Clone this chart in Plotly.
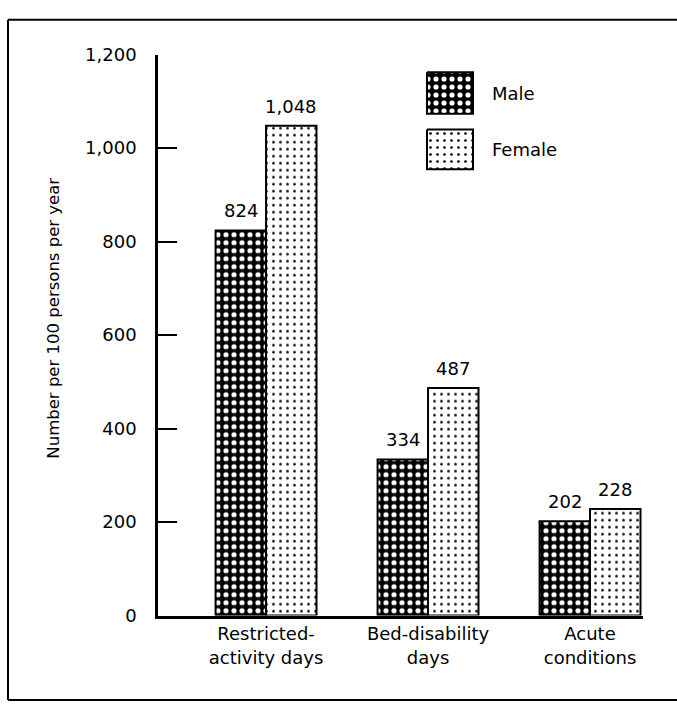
import plotly.graph_objects as go

# ---------------- data ----------------
categories = ["Restricted-<br>activity days", "Bed-disability<br>days", "Acute<br>conditions"]
series_names = ["Male", "Female"]
male_values = [824, 334, 202]
female_values = [1048, 487, 228]
y_tick_values = [0, 200, 400, 600, 800, 1000, 1200]
y_axis_title = "Number per 100 persons per year"

# ---------------- style ----------------
W, H = 677, 711
FONT = "DejaVu Sans"
INK = "black"

male_pattern = dict(shape=".", bgcolor="black", fgcolor="white", size=8, solidity=0.33, fillmode="replace")
female_pattern = dict(shape=".", bgcolor="white", fgcolor="black", size=7, solidity=0.12, fillmode="replace")
patterns = [male_pattern, female_pattern]
series_values = [male_values, female_values]

# plot area in pixels
PLOT_L, PLOT_R, PLOT_T, PLOT_B = 158, 643, 45, 623
BARGAP = 0.377
LABEL_SHIFT = 7

# legend layout (pixel boxes)
LEG_BOX_X = (427, 473)
LEG_BOX_Y = [(63, 106), (122, 163)]
LEG_TEXT_X = 490
LEG_TEXT_Y = [85, 143]


def px_x(p):
    return p / W


def px_y(p):
    return 1 - p / H


fig = go.Figure()
x_idx = list(range(len(categories)))
bar_w = (1 - BARGAP) / len(series_names)

for i, (name, vals, pat) in enumerate(zip(series_names, series_values, patterns)):
    fig.add_trace(go.Bar(
        x=x_idx, y=vals, name=name,
        marker=dict(color=pat["bgcolor"], pattern=pat, line=dict(color=INK, width=2)),
        showlegend=False, hoverinfo="x+y",
    ))
    offset = (i - (len(series_names) - 1) / 2) * bar_w
    for j, v in zip(x_idx, vals):
        fig.add_annotation(text=f"{v:,}", x=j + offset, y=v, xref="x", yref="y",
                           xanchor="center", yanchor="bottom", yshift=LABEL_SHIFT,
                           showarrow=False, font=dict(family=FONT, size=18, color=INK))

# legend swatches on an invisible pixel-coordinate overlay axis
for (y0, y1), pat in zip(LEG_BOX_Y, patterns):
    x0, x1 = LEG_BOX_X
    fig.add_trace(go.Scatter(
        x=[x0, x1, x1, x0, x0], y=[y0, y0, y1, y1, y0],
        mode="lines", fill="toself", fillcolor=pat["bgcolor"], fillpattern=pat,
        line=dict(color=INK, width=2), xaxis="x2", yaxis="y2",
        showlegend=False, hoverinfo="skip",
    ))

for name, ty in zip(series_names, LEG_TEXT_Y):
    fig.add_annotation(text=name, x=px_x(LEG_TEXT_X), y=px_y(ty), xref="paper", yref="paper",
                       xanchor="left", yanchor="middle", showarrow=False,
                       font=dict(family=FONT, size=18, color=INK))

# y-axis title
fig.add_annotation(text=y_axis_title, x=px_x(54), y=px_y(317), xref="paper", yref="paper",
                   textangle=-90, showarrow=False, xanchor="center", yanchor="middle",
                   font=dict(family=FONT, size=16.5, color=INK))

# frame lines (top, left, bottom)
frame = [((8, 9), (677, 9)), ((8, 9), (8, 710)), ((8, 710), (677, 710))]
for (ax, ay), (bx, by) in frame:
    fig.add_shape(type="line", xref="paper", yref="paper",
                  x0=px_x(ax), y0=px_y(ay), x1=px_x(bx), y1=px_y(by),
                  line=dict(color=INK, width=2))

fig.update_layout(
    width=W, height=H,
    margin=dict(l=0, r=0, t=0, b=0),
    paper_bgcolor="white", plot_bgcolor="rgba(0,0,0,0)",
    barmode="group", bargap=BARGAP, bargroupgap=0,
    font=dict(family=FONT, size=18, color=INK),
    xaxis=dict(
        domain=[px_x(PLOT_L), px_x(PLOT_R)],
        range=[-0.667, 2.327], tickvals=x_idx, ticktext=categories,
        showline=True, linecolor=INK, linewidth=3, ticks="", showgrid=False, zeroline=False,
        tickfont=dict(family=FONT, size=18, color=INK),
    ),
    yaxis=dict(
        domain=[px_y(PLOT_B), px_y(PLOT_T)],
        range=[0, 1200], tickvals=y_tick_values, tickformat=",",
        showline=True, linecolor=INK, linewidth=2.5, ticks="inside", ticklen=19, tickwidth=2,
        tickcolor=INK, showgrid=False, zeroline=False, ticklabelstandoff=15,
        tickfont=dict(family=FONT, size=18, color=INK),
    ),
    xaxis2=dict(domain=[0, 1], range=[0, W], visible=False, anchor="y2", fixedrange=True),
    yaxis2=dict(domain=[0, 1], range=[H, 0], visible=False, anchor="x2", fixedrange=True),
)

fig.write_html(
    "out.html",
    config={"displayModeBar": False},
    post_script="document.body.style.margin='0px';document.body.style.overflow='hidden';",
)
